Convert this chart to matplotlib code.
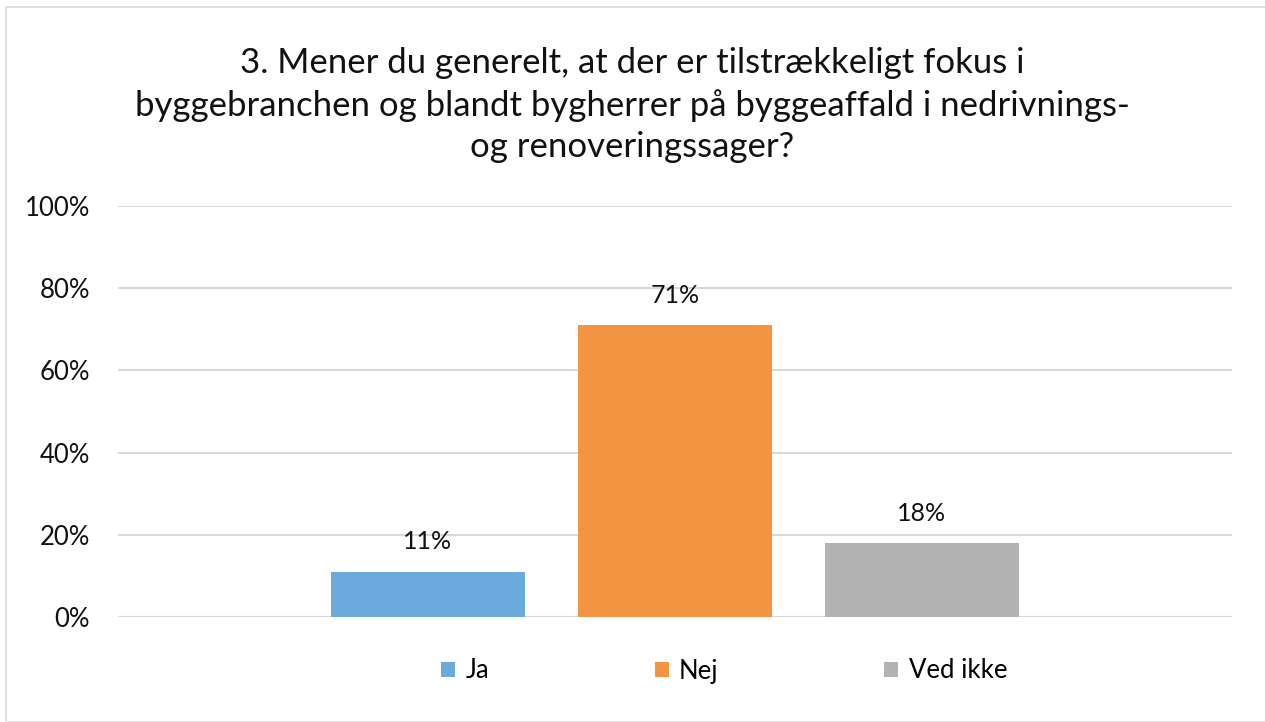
import matplotlib.pyplot as plt
from matplotlib.patches import Rectangle

plt.rcParams['font.family'] = ['Lato', 'DejaVu Sans']

title = ("3. Mener du generelt, at der er tilstrækkeligt fokus i\n"
         "byggebranchen og blandt bygherrer på byggeaffald i nedrivnings-\n"
         "og renoveringssager?")
series = ['Ja', 'Nej', 'Ved ikke']
values = [0.11, 0.71, 0.18]
labels = ['11%', '71%', '18%']
colors = ['#6CAADD', '#F29441', '#B3B3B3']
yticks = [0, 0.2, 0.4, 0.6, 0.8, 1.0]
ytick_labels = ['0%', '20%', '40%', '60%', '80%', '100%']

fig = plt.figure(figsize=(12.65, 7.22), dpi=100)
fig.patches.append(Rectangle((6 / 1265, 0), 1.1, 1 - 7 / 722, transform=fig.transFigure,
                             fill=False, edgecolor='#D9D9D9', linewidth=1.2))

ax = fig.add_axes([118 / 1265, 1 - 617 / 722, (1232 - 118) / 1265, (617 - 206) / 722])

width = 194 / 1114
step = 247 / 1114
for i, (s, v, lab, c) in enumerate(zip(series, values, labels, colors)):
    x = (i - 1) * step
    ax.bar(x, v, width=width, color=c, label=s, zorder=3)
    ax.text(x, v + 0.045, lab, ha='center', va='bottom', fontsize=18, color='#111111')

ax.set_xlim(-0.5, 0.5)
ax.set_ylim(0, 1)
ax.set_yticks(yticks)
ax.set_yticklabels(ytick_labels, fontsize=18.5, color='#111111')
ax.set_xticks([])
ax.tick_params(axis='y', length=0, pad=20)
ax.grid(axis='y', color='#D9D9D9', linewidth=1.5, zorder=0)
for sp in ax.spines.values():
    sp.set_visible(False)
ax.axhline(0, color='#D9D9D9', linewidth=1.5, zorder=1)

fig.text(0.5, 1 - 105 / 722, title, ha='center', va='center', fontsize=25,
         color='#111111', linespacing=1.38)

fig.legend(loc='center', bbox_to_anchor=(724 / 1265, 1 - 671 / 722), ncol=3,
           frameon=False, fontsize=18.5, handlelength=0.55, handleheight=0.55,
           handletextpad=0.4, columnspacing=6.45)

fig.savefig('out.png', dpi=100, facecolor='white')
